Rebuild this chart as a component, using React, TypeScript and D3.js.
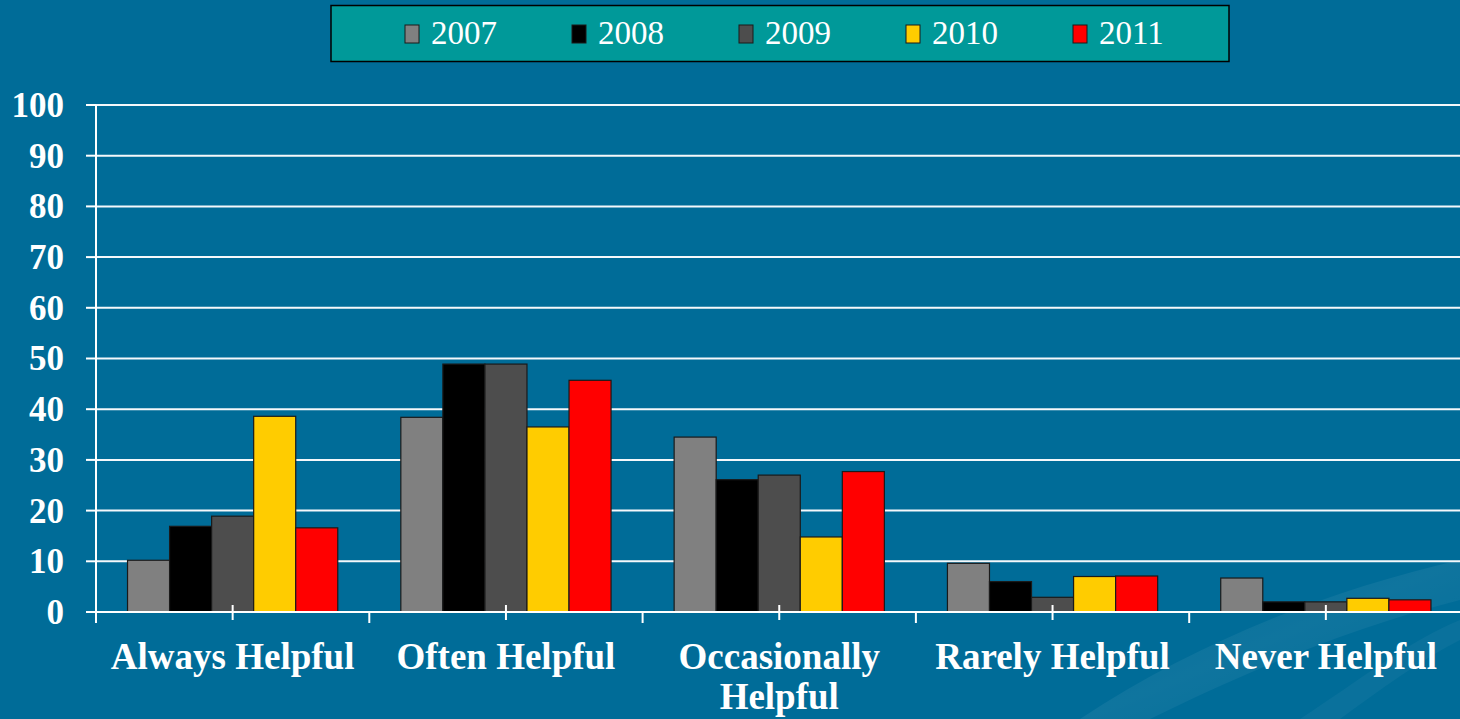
import React from "react";
import * as d3 from "d3";

const categories = ["Always Helpful", "Often Helpful", "Occasionally Helpful", "Rarely Helpful", "Never Helpful"];
const categoryLines = [["Always Helpful"], ["Often Helpful"], ["Occasionally", "Helpful"], ["Rarely Helpful"], ["Never Helpful"]];
const years = ["2007", "2008", "2009", "2010", "2011"];
const colors = ["#808080", "#000000", "#4d4d4d", "#ffcc00", "#ff0000"];
const values2007 = [10.2, 38.4, 34.5, 9.6, 6.7];
const values2008 = [16.9, 48.9, 26.1, 6.0, 2.0];
const values2009 = [18.9, 48.9, 27.0, 2.9, 2.0];
const values2010 = [38.6, 36.5, 14.8, 7.0, 2.7];
const values2011 = [16.6, 45.7, 27.7, 7.1, 2.4];
const seriesValues = [values2007, values2008, values2009, values2010, values2011];
const yTicks = [0, 10, 20, 30, 40, 50, 60, 70, 80, 90, 100];

const W = 1460;
const H = 719;
const left = 96;
const right = 1462.5;
const top = 105;
const bottom = 612;

export default function App() {
  const x = d3.scaleBand<string>().domain(categories).range([left, right]).paddingInner(0).paddingOuter(0);
  const xi = d3.scaleBand<string>().domain(years).range([0, x.bandwidth()]).paddingInner(0).paddingOuter(0.75);
  const y = d3.scaleLinear().domain([0, 100]).range([bottom, top]);
  const serif = "'Liberation Serif', 'Times New Roman', serif";

  return (
    <svg width={W} height={H} style={{ position: "absolute", left: 0, top: 0, display: "block" }}>
      <defs>
        <linearGradient id="sw" x1="0" y1="0" x2="1" y2="1">
          <stop offset="0" stopColor="#ffffff" stopOpacity="0" />
          <stop offset="0.5" stopColor="#ffffff" stopOpacity="0.06" />
          <stop offset="1" stopColor="#ffffff" stopOpacity="0" />
        </linearGradient>
      </defs>
      <rect x={0} y={0} width={W} height={H} fill="#006c98" />
      <path d="M1080,719 C1200,640 1330,590 1460,560 L1460,600 C1340,630 1230,680 1150,719 Z" fill="url(#sw)" />
      <path d="M1300,719 C1360,680 1410,640 1460,620 L1460,640 C1420,660 1380,690 1340,719 Z" fill="#ffffff" fillOpacity="0.04" />

      {/* legend */}
      <rect x={331} y={5.5} width={898} height={56} fill="#009999" stroke="#000" strokeWidth={1.5} />
      {years.map((yr, i) => {
        const lx = 405 + i * 167;
        return (
          <g key={yr}>
            <rect x={lx} y={25} width={14} height={18} fill={colors[i]} stroke="#1a1a1a" strokeWidth={1} />
            <text x={lx + 26} y={44} fill="#fff" fontFamily={serif} fontSize={33}>{yr}</text>
          </g>
        );
      })}

      {/* gridlines */}
      {yTicks.map((t) => (
        <g key={t}>
          <line x1={left} x2={W} y1={y(t)} y2={y(t)} stroke="#f4f8fb" strokeWidth={2} />
          <line x1={86} x2={left} y1={y(t)} y2={y(t)} stroke="#fff" strokeWidth={2} />
          <text x={64} y={y(t)} dy="0.34em" textAnchor="end" fill="#fff" fontFamily={serif} fontWeight="bold" fontSize={35}>{t}</text>
        </g>
      ))}

      {/* bars */}
      {categories.map((c, ci) => (
        <g key={c} transform={`translate(${x(c)},0)`}>
          {years.map((yr, si) => {
            const v = seriesValues[si][ci];
            return (
              <rect key={yr} x={xi(yr)} y={y(v)} width={xi.bandwidth()} height={bottom - y(v)} fill={colors[si]} stroke="#1a1a1a" strokeWidth={1.2} />
            );
          })}
        </g>
      ))}

      {/* axes */}
      <line x1={left} x2={left} y1={top} y2={621} stroke="#fff" strokeWidth={2} />
      <line x1={left} x2={W} y1={bottom} y2={bottom} stroke="#fff" strokeWidth={2} />
      {categories.map((c) => (
        <g key={c}>
          <line x1={x(c)} x2={x(c)} y1={bottom} y2={623} stroke="#fff" strokeWidth={2} />
          <line x1={x(c)! + x.bandwidth() / 2} x2={x(c)! + x.bandwidth() / 2} y1={605} y2={620} stroke="#fff" strokeWidth={2} />
        </g>
      ))}

      {/* category labels */}
      {categories.map((c, ci) => (
        <text key={c} textAnchor="middle" fill="#fff" fontFamily={serif} fontWeight="bold" fontSize={37}>
          {categoryLines[ci].map((ln, li) => (
            <tspan key={li} x={x(c)! + x.bandwidth() / 2} y={669 + li * 40}>{ln}</tspan>
          ))}
        </text>
      ))}
    </svg>
  );
}
